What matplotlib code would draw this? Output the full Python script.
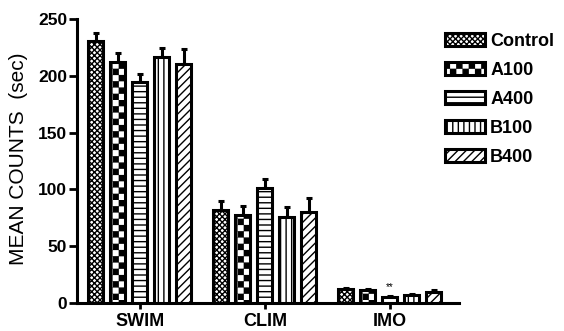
import warnings
import matplotlib
matplotlib.use("Agg")
import matplotlib.pyplot as plt
import matplotlib.hatch as mhatch
from matplotlib.path import Path
import numpy as np

warnings.simplefilter("ignore")

# ===== data =====
groups = ["SWIM", "CLIM", "IMO"]
series = ["Control", "A100", "A400", "B100", "B400"]
control_mean = [231, 82, 12]
a100_mean = [212, 77, 11]
a400_mean = [195, 101, 5]
b100_mean = [217, 76, 7]
b400_mean = [211, 80, 9]
control_err = [7, 8, 1]
a100_err = [8, 8, 1.5]
a400_err = [7, 8, 1]
b100_err = [8, 8, 1]
b400_err = [13, 12, 2]
means = [control_mean, a100_mean, a400_mean, b100_mean, b400_mean]
errs = [control_err, a100_err, a400_err, b100_err, b400_err]
sig_label = "**"  # IMO / A400


# ===== checkerboard hatch ('c') =====
class CheckerHatch(mhatch.HatchPatternBase):
    def __init__(self, hatch, density):
        self.n = 8 if "c" in hatch else 0
        self.cells = [(i, j) for i in range(2 * self.n) for j in range(2 * self.n)
                      if (i + j) % 2 == 0]
        self.num_vertices = len(self.cells) * 5

    def set_vertices_and_codes(self, vertices, codes):
        s = 1.0 / (2 * self.n)
        d = 0.006
        k = 0
        for i, j in self.cells:
            x0, y0 = i * s + d, j * s + d
            x1, y1 = (i + 1) * s - d, (j + 1) * s - d
            vertices[k:k + 5] = [(x0, y0), (x1, y0), (x1, y1), (x0, y1), (x0, y0)]
            codes[k:k + 5] = [Path.MOVETO, Path.LINETO, Path.LINETO,
                              Path.LINETO, Path.CLOSEPOLY]
            k += 5


mhatch._hatch_types.append(CheckerHatch)

hatches = ["xxxxxx", "c", "---", "|||", "////"]

plt.rcParams["font.family"] = ["Liberation Sans", "DejaVu Sans"]
plt.rcParams["hatch.linewidth"] = 1.0
plt.rcParams["hatch.color"] = "black"

fig = plt.figure(figsize=(5.64, 3.31), dpi=100)
ax = fig.add_axes([0.1365, 0.0855, 0.6773, 0.8562])

x = np.arange(len(groups))
pitch = 0.176
width = 0.12
lw = 2.2

for k, (name, m, e, h) in enumerate(zip(series, means, errs, hatches)):
    xs = x + (k - 2) * pitch
    ax.errorbar(xs, m, yerr=[np.zeros(len(e)), e], fmt="none", ecolor="black",
                elinewidth=lw, capsize=2.5, capthick=lw, zorder=2)
    ax.bar(xs, m, width, facecolor="white", edgecolor="black", linewidth=lw,
           hatch=h, label=name, zorder=3)

# significance marker on IMO / A400
ax.text(x[2], a400_mean[2] + a400_err[2] + 3, sig_label, ha="center", va="bottom",
        fontsize=7, zorder=4)

ax.set_xlim(-0.504, 2.552)
ax.set_ylim(0, 250)
ax.set_yticks([0, 50, 100, 150, 200, 250])
ax.set_xticks(x)
ax.set_xticklabels(groups, fontsize=13, fontweight="bold")
for t in ax.get_yticklabels():
    t.set_fontsize(12.5)
    t.set_fontweight("bold")

for s in ["top", "right"]:
    ax.spines[s].set_visible(False)
for s in ["left", "bottom"]:
    ax.spines[s].set_linewidth(lw)
ax.tick_params(axis="y", length=5.5, width=2, pad=1.5)
ax.tick_params(axis="x", length=4.5, width=2, pad=3)

fig.text(0.032, 0.52, "MEAN COUNTS  (sec)", rotation=90, ha="center", va="center",
         fontsize=15)

leg = ax.legend(loc="upper left", bbox_to_anchor=(445 / 564, 1 - 33 / 331),
                bbox_transform=fig.transFigure, frameon=False, borderpad=0,
                borderaxespad=0, handlelength=2.2, handleheight=0.7,
                handletextpad=0.3, labelspacing=0.66,
                prop={"size": 13, "weight": "bold"})

fig.savefig("out.png", dpi=100)
